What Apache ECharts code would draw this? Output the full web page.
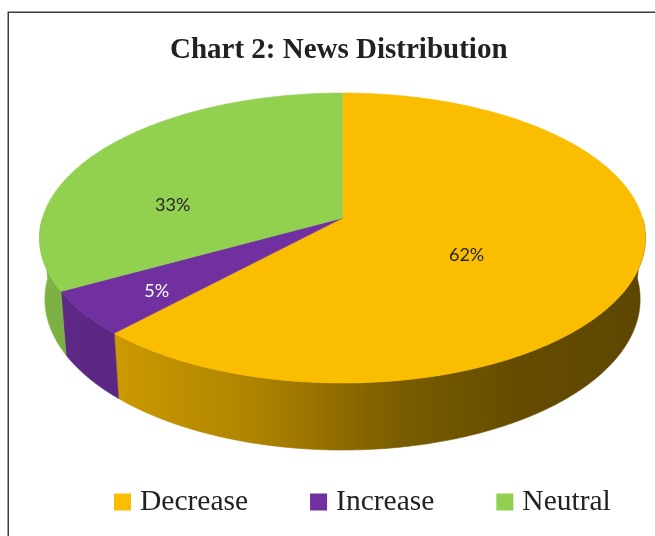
<!DOCTYPE html>
<html>
<head>
<meta charset="utf-8">
<script src="https://cdn.jsdelivr.net/npm/echarts@6/dist/echarts.min.js"></script>
<style>
  html, body { margin: 0; padding: 0; background: #ffffff; }
  #chart { width: 655px; height: 536px; }
</style>
</head>
<body>
<div id="chart"></div>
<script>
// News sentiment shares (percent)
const categories = ['Decrease', 'Increase', 'Neutral'];
const shares = [62, 5, 33];

// Styling
const sliceColors = ['#FBBD00', '#7030A0', '#92D050'];
const labelColors = ['#262626', '#ffffff', '#262626'];
const labelNudge = [[-19, 10], [-62, 28], [-45, 22]];

// Perspective camera for the tilted 3D pie (unit-radius disc)
const view = {
  cx: 342.5, cy: 218,          // screen position of the disc centre
  focal: 1914, dist: 6.38,     // focal length and camera distance
  tilt: 28.3 * Math.PI / 180,  // elevation of the camera
  depth: 0.234                 // thickness of the disc
};

function project(r, deg, h) {
  const a = deg * Math.PI / 180;
  const x = r * Math.sin(a), z = r * Math.cos(a);
  const ca = Math.cos(view.tilt), sa = Math.sin(view.tilt);
  const w = view.dist + z * ca - h * sa;
  const up = h * ca + z * sa;
  return [view.cx + view.focal * x / w, view.cy - view.focal * up / w];
}

function shade(hex, k) {
  const n = parseInt(hex.slice(1), 16);
  const r = Math.round(((n >> 16) & 255) * k);
  const g = Math.round(((n >> 8) & 255) * k);
  const b = Math.round((n & 255) * k);
  return 'rgb(' + r + ',' + g + ',' + b + ')';
}

// Side wall lighting: brighter at the left, darker towards the right
const wallLight = [[0, 0.86], [0.13, 0.81], [0.35, 0.70], [0.59, 0.49], [0.79, 0.40], [1, 0.37]];
function wallFill(hex) {
  return new echarts.graphic.LinearGradient(38, 0, 646, 0,
    wallLight.map(s => ({ offset: s[0], color: shade(hex, s[1]) })), true);
}

const total = shares.reduce((a, b) => a + b, 0);
const starts = [];
shares.reduce((acc, v, i) => { starts[i] = acc; return acc + v; }, 0);

function renderSlice(idx) {
  return function (params, api) {
    const start = api.value(0), value = api.value(1);
    const a0 = start / total * 360, a1 = (start + value) / total * 360;
    const color = sliceColors[idx];
    const children = [];

    // visible front wall
    const s0 = Math.max(a0, 90), s1 = Math.min(a1, 270);
    if (s1 > s0) {
      const pts = [];
      for (let a = s0; a < s1; a += 0.5) pts.push(project(1, a, 0));
      pts.push(project(1, s1, 0));
      for (let a = s1; a > s0; a -= 0.5) pts.push(project(1, a, -view.depth));
      pts.push(project(1, s0, -view.depth));
      const fill = wallFill(color);
      children.push({ type: 'polygon', shape: { points: pts }, z2: 1,
        style: { fill: fill, stroke: fill, lineWidth: 0.6 } });
    }

    // top face
    const top = [project(0, 0, 0)];
    for (let a = a0; a < a1; a += 0.5) top.push(project(1, a, 0));
    top.push(project(1, a1, 0));
    children.push({ type: 'polygon', shape: { points: top }, z2: 2,
      style: { fill: color, stroke: color, lineWidth: 0.6 } });

    // percentage label
    const mid = project(0.5, (a0 + a1) / 2, 0);
    children.push({ type: 'text', z2: 3,
      x: mid[0] + labelNudge[idx][0], y: mid[1] + labelNudge[idx][1],
      style: { text: value + '%', fill: labelColors[idx], fontFamily: 'Lato', fontSize: 18,
        align: 'center', verticalAlign: 'middle' } });

    return { type: 'group', children: children };
  };
}

const chart = echarts.init(document.getElementById('chart'), null, { renderer: 'canvas' });
chart.setOption({
  animation: false,
  backgroundColor: '#ffffff',
  color: sliceColors,
  title: {
    text: 'Chart 2: News Distribution',
    left: 170, top: 36, padding: 0,
    textStyle: { fontFamily: 'Liberation Serif', fontWeight: 'bold', fontSize: 29, color: '#222222', lineHeight: 30 }
  },
  legend: {
    data: categories,
    left: 114, top: 487, padding: 0,
    icon: 'rect', itemWidth: 17, itemHeight: 17, itemGap: 62,
    selectedMode: false,
    textStyle: { fontFamily: 'Liberation Serif', fontSize: 29.5, color: '#222222', lineHeight: 30, padding: [0, 0, 0, 4] }
  },
  graphic: [{
    type: 'rect', silent: true, z: 0,
    shape: { x: 8.25, y: 12.25, width: 700, height: 600 },
    style: { fill: 'none', stroke: '#3c3c3c', lineWidth: 1.5 }
  }],
  series: categories.map((name, i) => ({
    type: 'custom',
    name: name,
    coordinateSystem: 'none',
    itemStyle: { color: sliceColors[i] },
    data: [[starts[i], shares[i]]],
    renderItem: renderSlice(i)
  }))
});
</script>
</body>
</html>
